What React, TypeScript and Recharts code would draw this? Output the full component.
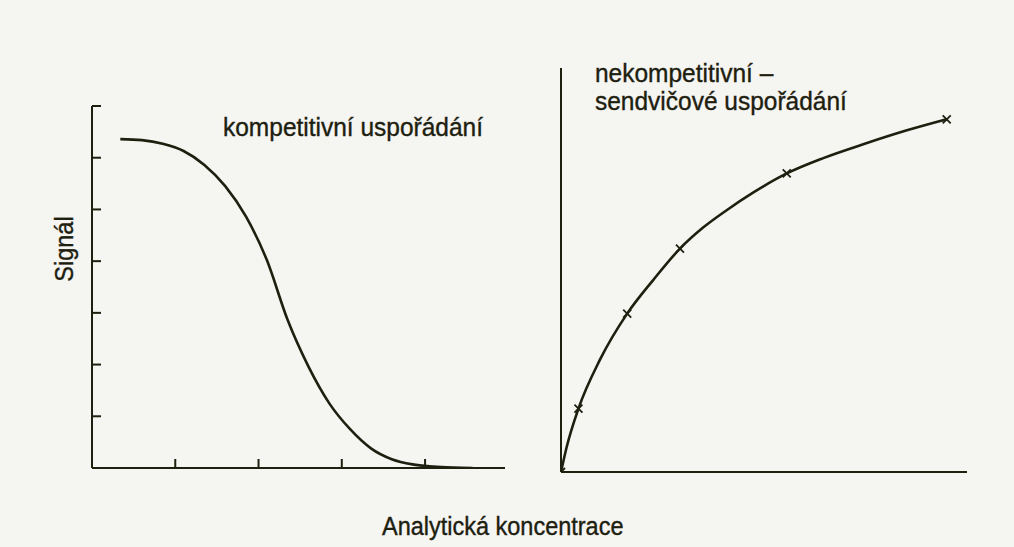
import React from "react";
import { ComposedChart, Line, Scatter, XAxis, YAxis } from "recharts";

// Left panel: competitive arrangement (sigmoid decrease)
const compX = [0.34, 0.6, 0.85, 1.1, 1.35, 1.6, 1.85, 2.1, 2.35, 2.6, 2.85, 3.1, 3.35, 3.6, 3.85, 4.1, 4.35, 4.57];
const compY = [6.36, 6.34, 6.27, 6.13, 5.86, 5.45, 4.86, 4.02, 2.86, 1.96, 1.25, 0.75, 0.38, 0.17, 0.07, 0.03, 0.01, 0.0];
const leftXTicks = [1, 2, 3, 4];
const leftYTicks = [1, 2, 3, 4, 5, 6, 7];

// Right panel: non-competitive sandwich arrangement (saturation curve)
const sandX = [0, 0.14, 0.43, 0.96, 1.63, 2.27, 2.93, 3.5, 4.08, 4.74, 5.56, 6.46, 7.5, 8.5, 9.5];
const sandY = [0, 0.62, 1.57, 2.78, 3.92, 4.75, 5.53, 6.05, 6.48, 6.92, 7.39, 7.77, 8.13, 8.45, 8.73];
const markerX = [0, 0.43, 1.63, 2.93, 5.56, 9.5];
const markerY = [0, 1.57, 3.92, 5.53, 7.39, 8.73];

const titleLeft = "kompetitivní uspořádání";
const titleRight1 = "nekompetitivní –";
const titleRight2 = "sendvičové uspořádání";
const xLabel = "Analytická koncentrace";
const yLabel = "Signál";

const INK = "#1d200f";
const FONT = "'Liberation Sans', Arial, Helvetica, sans-serif";

const compData = compX.map((x, i) => ({ x, y: compY[i] }));
const sandData = sandX.map((x, i) => ({ x, y: sandY[i] }));
const markerData = markerX.map((x, i) => ({ x, y: markerY[i] }));

const XMark = (props: any) => {
  const { cx, cy } = props;
  if (cx == null || cy == null) return <g />;
  const s = 4;
  return (
    <path
      d={`M${cx - s},${cy - s}L${cx + s},${cy + s}M${cx - s},${cy + s}L${cx + s},${cy - s}`}
      stroke={INK}
      strokeWidth={1.8}
      fill="none"
    />
  );
};

const EmptyTick = () => <g />;

const W = 1014;
const H = 547;

export default function App() {
  const axisLine = { stroke: INK, strokeWidth: 2 };
  const tickLine = { stroke: INK, strokeWidth: 2 };
  const txt = {
    fontFamily: FONT,
    fill: INK,
    stroke: INK,
    strokeWidth: 0.35,
    fontSize: 24.5,
  } as const;
  return (
    <div
      style={{
        position: "absolute",
        left: 0,
        top: 0,
        width: W,
        height: H,
        background: "#f5f5f2",
        overflow: "hidden",
      }}
    >
      <div style={{ position: "absolute", left: 0, top: 0 }}>
        <ComposedChart
          width={W}
          height={H}
          data={compData}
          margin={{ left: 82, top: 106, right: W - 505, bottom: H - 468 - 10 }}
        >
          <XAxis
            type="number"
            dataKey="x"
            domain={[0, 4.96]}
            ticks={leftXTicks}
            height={10}
            tickSize={-9}
            tick={EmptyTick}
            axisLine={axisLine}
            tickLine={tickLine}
            allowDataOverflow
          />
          <YAxis
            type="number"
            domain={[0, 7]}
            ticks={leftYTicks}
            width={10}
            tickSize={-9}
            tick={EmptyTick}
            axisLine={axisLine}
            tickLine={tickLine}
            allowDataOverflow
          />
          <Line
            type="monotone"
            dataKey="y"
            stroke={INK}
            strokeWidth={2.6}
            dot={false}
            isAnimationActive={false}
          />
        </ComposedChart>
      </div>
      <div style={{ position: "absolute", left: 0, top: 0 }}>
        <ComposedChart
          width={W}
          height={H}
          margin={{ left: 551, top: 68, right: W - 967, bottom: H - 472 - 10 }}
        >
          <XAxis
            type="number"
            dataKey="x"
            domain={[0, 10]}
            ticks={[]}
            height={10}
            tick={false}
            tickLine={false}
            axisLine={axisLine}
            allowDataOverflow
          />
          <YAxis
            type="number"
            dataKey="y"
            domain={[0, 10]}
            ticks={[]}
            width={10}
            tick={false}
            tickLine={false}
            axisLine={axisLine}
            allowDataOverflow
          />
          <Line
            data={sandData}
            type="monotone"
            dataKey="y"
            stroke={INK}
            strokeWidth={2.6}
            dot={false}
            isAnimationActive={false}
          />
          <Scatter data={markerData} dataKey="y" shape={XMark} isAnimationActive={false} />
        </ComposedChart>
      </div>
      <svg
        width={W}
        height={H}
        style={{ position: "absolute", left: 0, top: 0, pointerEvents: "none" }}
      >
        <text {...txt} transform="translate(223,136) scale(1,1.08)">
          {titleLeft}
        </text>
        <text {...txt} transform="translate(595,82) scale(1,1.08)">
          {titleRight1}
        </text>
        <text {...txt} transform="translate(595,110) scale(1,1.08)">
          {titleRight2}
        </text>
        <text {...txt} fontSize={23.5} transform="translate(382,535) scale(1,1.08)">
          {xLabel}
        </text>
        <text
          {...txt}
          fontSize={23.5}
          textAnchor="middle"
          transform="translate(73,249) rotate(-90) scale(1,1.08)"
        >
          {yLabel}
        </text>
      </svg>
    </div>
  );
}
